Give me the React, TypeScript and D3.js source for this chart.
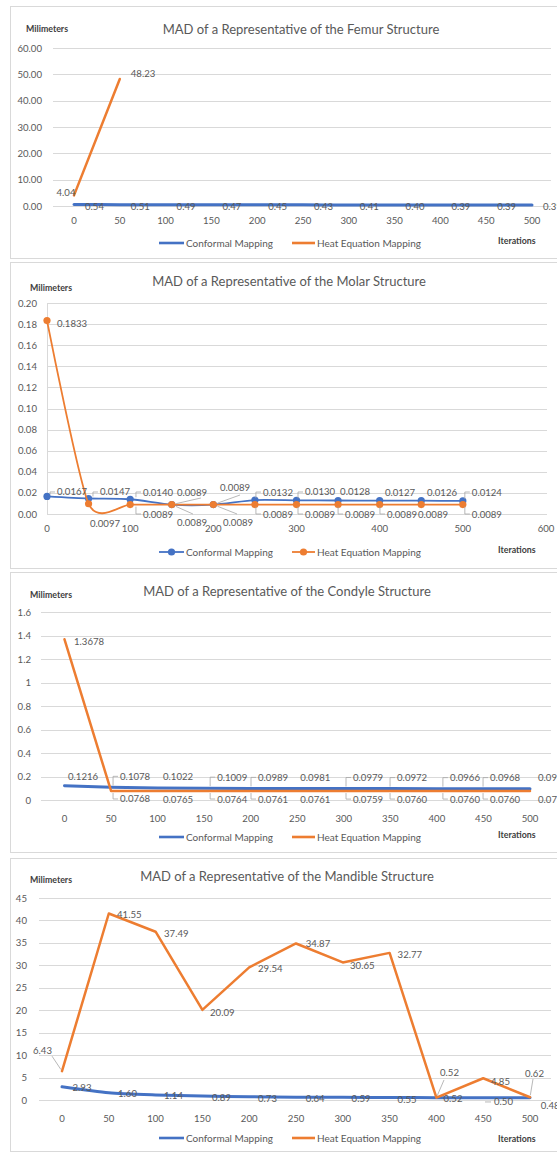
import React from 'react';
import * as d3 from 'd3';

// ---------------- DATA ----------------
const iterations = [0, 50, 100, 150, 200, 250, 300, 350, 400, 450, 500];
const seriesNames = ['Conformal Mapping', 'Heat Equation Mapping'];

const femurConformal = [0.54, 0.51, 0.49, 0.47, 0.45, 0.43, 0.41, 0.40, 0.39, 0.39, 0.39];
const femurHeat = [4.04, 48.23];
const femurYTicks = [0, 10, 20, 30, 40, 50, 60];
const femurXTicks = [0, 50, 100, 150, 200, 250, 300, 350, 400, 450, 500];

const molarConformal = [0.0167, 0.0147, 0.0140, 0.0089, 0.0089, 0.0132, 0.0130, 0.0128, 0.0127, 0.0126, 0.0124];
const molarHeat = [0.1833, 0.0097, 0.0089, 0.0089, 0.0089, 0.0089, 0.0089, 0.0089, 0.0089, 0.0089, 0.0089];
const molarYTicks = [0, 0.02, 0.04, 0.06, 0.08, 0.10, 0.12, 0.14, 0.16, 0.18, 0.20];
const molarXTicks = [0, 100, 200, 300, 400, 500, 600];

const condyleConformal = [0.1216, 0.1078, 0.1022, 0.1009, 0.0989, 0.0981, 0.0979, 0.0972, 0.0966, 0.0968, 0.0966];
const condyleHeat = [1.3678, 0.0768, 0.0765, 0.0764, 0.0761, 0.0761, 0.0759, 0.0760, 0.0760, 0.0760, 0.0760];
const condyleYTicks = [0, 0.2, 0.4, 0.6, 0.8, 1, 1.2, 1.4, 1.6];
const condyleXTicks = [0, 50, 100, 150, 200, 250, 300, 350, 400, 450, 500];

const mandibleConformal = [2.93, 1.60, 1.14, 0.89, 0.73, 0.64, 0.59, 0.55, 0.52, 0.50, 0.48];
const mandibleHeat = [6.43, 41.55, 37.49, 20.09, 29.54, 34.87, 30.65, 32.77, 0.52, 4.85, 0.62];
const mandibleYTicks = [0, 5, 10, 15, 20, 25, 30, 35, 40, 45];
const mandibleXTicks = [0, 50, 100, 150, 200, 250, 300, 350, 400, 450, 500];

// ---------------- STYLE / LAYOUT ----------------
const C = {
  blue: '#4472C4',
  orange: '#ED7D31',
  text: '#595959',
  dark: '#404040',
  grid: '#D9D9D9',
  leader: '#A6A6A6',
  border: '#D9D9D9',
};
const FONT = 'Lato, "Open Sans", sans-serif';

type Leader = undefined | 'b' | 'h' | [number, number];
type Lab = [number, number, Leader?];

const uniform = (n: number, dx: number, dy: number): Lab[] =>
  Array.from({ length: n }, () => [dx, dy] as Lab);

const condDx = [3.5, 9, 5.4, 13, 7.3, 3, 9.2, 6.7, 13, 6.6, 8];
const condLead = [false, true, false, true, true, false, true, true, true, true, false];

interface SeriesCfg {
  values: number[];
  color: string;
  width: number;
  smooth: boolean;
  markers: boolean;
  labels: Lab[];
}

interface PanelCfg {
  box: [number, number, number, number];
  title: string;
  titleX: number;
  titleY: number;
  unitX: number;
  unitY: number;
  xRange: [number, number];
  xDomain: [number, number];
  yRange: [number, number];
  yDomain: [number, number];
  yTicks: number[];
  yFmt: (v: number) => string;
  yLabelX: number;
  xTicks: number[];
  xLabelY: number;
  gridX: [number, number];
  yAxisLine: boolean;
  labelFmt: (v: number) => string;
  series: SeriesCfg[];
  legendY: number;
  legendMarkers: boolean;
  iterY: number;
}

const f2 = d3.format('.2f');
const f4 = d3.format('.4f');

const panels: PanelCfg[] = [
  {
    box: [10.5, 6.5, 560, 252],
    title: 'MAD of a Representative of the Femur Structure',
    titleX: 301, titleY: 29,
    unitX: 26, unitY: 28,
    xRange: [74, 532], xDomain: [0, 500],
    yRange: [206, 48], yDomain: [0, 60],
    yTicks: femurYTicks, yFmt: f2, yLabelX: 42,
    xTicks: femurXTicks, xLabelY: 220,
    gridX: [53, 551], yAxisLine: false,
    labelFmt: f2,
    series: [
      { values: femurConformal, color: C.blue, width: 3, smooth: true, markers: false, labels: uniform(11, 11, 1.5) },
      { values: femurHeat, color: C.orange, width: 2.5, smooth: false, markers: false, labels: [[-17.5, -2.4], [11, -5]] },
    ],
    legendY: 243, legendMarkers: false, iterY: 240,
  },
  {
    box: [10.5, 262.5, 560, 306],
    title: 'MAD of a Representative of the Molar Structure',
    titleX: 289, titleY: 281,
    unitX: 30, unitY: 287,
    xRange: [47, 546], xDomain: [0, 600],
    yRange: [514, 303], yDomain: [0, 0.2],
    yTicks: molarYTicks, yFmt: f2, yLabelX: 37,
    xTicks: molarXTicks, xLabelY: 528,
    gridX: [47, 547], yAxisLine: true,
    labelFmt: f4,
    series: [
      {
        values: molarConformal, color: C.blue, width: 1.8, smooth: true, markers: true,
        labels: [[10, -4.4, 'b'], [11.4, -6.5, 'b'], [12.8, -7.2, 'b'], [5.2, -12.6, [24, 6]], [6.7, -17.6, [20, 8]],
          [8, -8, 'b'], [8.5, -8.3, 'b'], [2, -8.5], [5.3, -8.6], [5.7, -8.7], [9, -8.9, 'b']],
      },
      {
        values: molarHeat, color: C.orange, width: 1.8, smooth: true, markers: true,
        labels: [[10, 2.4], [1.4, 20.2], [12.8, 9.4, 'b'], [5.2, 17.4, [16, -8]], [9.7, 17.4, [14, -8]],
          [8, 9.4, 'b'], [8.5, 9.4, 'b'], [7, 9.4, 'b'], [7.3, 9.4, 'b'], [-3.3, 9.4], [9, 9.4, 'b']],
      },
    ],
    legendY: 552, legendMarkers: true, iterY: 549,
  },
  {
    box: [10.5, 572.5, 560, 280],
    title: 'MAD of a Representative of the Condyle Structure',
    titleX: 287, titleY: 591,
    unitX: 30, unitY: 594,
    xRange: [64.5, 530], xDomain: [0, 500],
    yRange: [800, 612], yDomain: [0, 1.6],
    yTicks: condyleYTicks, yFmt: (v) => String(+v.toFixed(1)), yLabelX: 31,
    xTicks: condyleXTicks, xLabelY: 818,
    gridX: [41, 551], yAxisLine: false,
    labelFmt: f4,
    series: [
      {
        values: condyleConformal, color: C.blue, width: 3, smooth: false, markers: false,
        labels: condDx.map((dx, i) => (condLead[i] ? [dx, i === 0 ? -9 : -11, 'b'] : [dx, i === 0 ? -9 : -11]) as Lab),
      },
      {
        values: condyleHeat, color: C.orange, width: 2.5, smooth: false, markers: false,
        labels: condDx.map((dx, i) => (i === 0 ? [9.5, 2.7] : condLead[i] ? [dx, 8, 'b'] : [dx, 8]) as Lab),
      },
    ],
    legendY: 837, legendMarkers: false, iterY: 834,
  },
  {
    box: [10.5, 858.5, 560, 293],
    title: 'MAD of a Representative of the Mandible Structure',
    titleX: 287, titleY: 876,
    unitX: 30, unitY: 879,
    xRange: [62, 530], xDomain: [0, 500],
    yRange: [1100, 898], yDomain: [0, 45],
    yTicks: mandibleYTicks, yFmt: (v) => String(v), yLabelX: 27,
    xTicks: mandibleXTicks, xLabelY: 1118,
    gridX: [39, 551], yAxisLine: false,
    labelFmt: f2,
    series: [
      {
        values: mandibleConformal, color: C.blue, width: 3, smooth: true, markers: false,
        labels: [[10.5, 0.2], [9.2, 0.2], [8.4, 1.1], [9.6, 1], [8.8, 1.3], [9.7, 0.9], [8.8, 1.6], [8, 1.5],
          [7.1, 1.3], [10.8, 4.2, 'h'], [10.7, 7.2]],
      },
      {
        values: mandibleHeat, color: C.orange, width: 2.5, smooth: false, markers: false,
        labels: [[-29, -21, [19, 6]], [8.2, 1.5], [8.4, 1.3], [7.6, 2.2], [8.8, 1.6], [9.7, 0.5], [7.2, 2.6],
          [8, 2.1], [3.6, -24.7, [4, 7]], [7.8, 2.8], [-5, -24.2, [8, 6]]],
      },
    ],
    legendY: 1138, legendMarkers: false, iterY: 1138,
  },
];

function Panel({ cfg }: { cfg: PanelCfg }) {
  const x = d3.scaleLinear().domain(cfg.xDomain).range(cfg.xRange);
  const y = d3.scaleLinear().domain(cfg.yDomain).range(cfg.yRange);
  const [bx, by, bw, bh] = cfg.box;

  const makeLine = (smooth: boolean) =>
    d3
      .line<number>()
      .x((_, i) => x(iterations[i]))
      .y((d) => y(d))
      .curve(smooth ? d3.curveCardinal.tension(0.32) : d3.curveLinear);

  const labelEls: React.ReactNode[] = [];
  cfg.series.forEach((s, si) => {
    s.values.forEach((v, i) => {
      const lab = s.labels[i];
      if (!lab) return;
      const px = x(iterations[i]);
      const py = y(v);
      const tx = px + lab[0];
      const cy = py + lab[1];
      const ld = lab[2];
      if (ld === 'b') {
        const lx = tx - 7;
        const endY = cy < py ? py - 2 : py + 2;
        labelEls.push(
          <path key={`l${si}-${i}`} d={`M${tx - 2},${cy}H${lx}V${endY}`} fill="none" stroke={C.leader} strokeWidth={0.8} />
        );
      } else if (ld === 'h') {
        labelEls.push(
          <path key={`l${si}-${i}`} d={`M${tx - 9},${cy}H${tx - 3}`} fill="none" stroke={C.leader} strokeWidth={0.8} />
        );
      } else if (Array.isArray(ld)) {
        const ex = tx + ld[0];
        const ey = cy + ld[1];
        const dx = ex - px;
        const dy = ey - py;
        const len = Math.hypot(dx, dy) || 1;
        const sh = s.markers ? 4.5 : 2;
        labelEls.push(
          <line key={`l${si}-${i}`} x1={px + (dx / len) * sh} y1={py + (dy / len) * sh} x2={ex} y2={ey}
            stroke={C.leader} strokeWidth={0.8} />
        );
      }
      labelEls.push(
        <text key={`t${si}-${i}`} x={tx} y={cy} dominantBaseline="central" fontSize={9.6} fill={C.text}>
          {cfg.labelFmt(v)}
        </text>
      );
    });
  });

  const legendItems = [
    { name: seriesNames[0], color: C.blue, x0: 159, x1: 184, tx: 186 },
    { name: seriesNames[1], color: C.orange, x0: 292, x1: 315, tx: 317 },
  ];

  return (
    <g fontFamily={FONT}>
      <rect x={bx} y={by} width={bw} height={bh} fill="#fff" stroke={C.border} strokeWidth={1} />
      <text x={cfg.titleX} y={cfg.titleY} textAnchor="middle" dominantBaseline="central" fontSize={13} fill={C.text}>
        {cfg.title}
      </text>
      <text x={cfg.unitX} y={cfg.unitY} dominantBaseline="central" fontSize={8.8} fontWeight="bold" fill={C.dark}>
        Milimeters
      </text>
      {cfg.yTicks.map((t) => (
        <g key={`y${t}`}>
          <line x1={cfg.gridX[0]} x2={cfg.gridX[1]} y1={Math.round(y(t)) + 0.5} y2={Math.round(y(t)) + 0.5}
            stroke={C.grid} strokeWidth={1} />
          <text x={cfg.yLabelX} y={y(t)} textAnchor="end" dominantBaseline="central" fontSize={9.6} fill={C.text}>
            {cfg.yFmt(t)}
          </text>
        </g>
      ))}
      {cfg.yAxisLine && (
        <line x1={cfg.gridX[0] + 0.5} x2={cfg.gridX[0] + 0.5} y1={y(cfg.yDomain[1])} y2={y(cfg.yDomain[0])}
          stroke={C.grid} strokeWidth={1} />
      )}
      {cfg.xTicks.map((t) => (
        <text key={`x${t}`} x={x(t)} y={cfg.xLabelY} textAnchor="middle" dominantBaseline="central" fontSize={9.6}
          fill={C.text}>
          {t}
        </text>
      ))}
      {cfg.series.map((s, si) => (
        <g key={`s${si}`}>
          <path d={makeLine(s.smooth)(s.values) || ''} fill="none" stroke={s.color} strokeWidth={s.width}
            strokeLinejoin="round" strokeLinecap="round" />
          {s.markers &&
            s.values.map((v, i) => (
              <circle key={i} cx={x(iterations[i])} cy={y(v)} r={3.6} fill={s.color} />
            ))}
        </g>
      ))}
      {labelEls}
      {legendItems.map((it) => (
        <g key={it.name}>
          <line x1={it.x0} x2={it.x1} y1={cfg.legendY} y2={cfg.legendY} stroke={it.color}
            strokeWidth={cfg.legendMarkers ? 1.8 : 2.6} />
          {cfg.legendMarkers && <circle cx={(it.x0 + it.x1) / 2} cy={cfg.legendY} r={3.6} fill={it.color} />}
          <text x={it.tx} y={cfg.legendY} dominantBaseline="central" fontSize={10} fill={C.text}>
            {it.name}
          </text>
        </g>
      ))}
      <text x={498} y={cfg.iterY} dominantBaseline="central" fontSize={8.8} fontWeight="bold" fill={C.dark}>
        Iterations
      </text>
    </g>
  );
}

export default function App() {
  return (
    <svg width={557} height={1153} viewBox="0 0 557 1153"
      style={{ position: 'absolute', left: 0, top: 0, background: '#fff', display: 'block' }}>
      <rect x={0} y={0} width={557} height={1153} fill="#fff" />
      {panels.map((p, i) => (
        <Panel key={i} cfg={p} />
      ))}
    </svg>
  );
}
